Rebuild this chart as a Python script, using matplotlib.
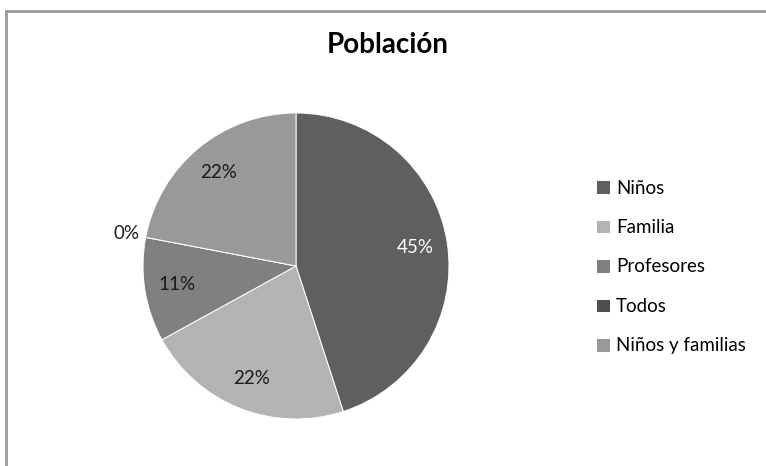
import matplotlib.pyplot as plt
from matplotlib.lines import Line2D

plt.rcParams['font.family'] = ['Lato', 'DejaVu Sans']

# Datos de la gráfica
categorias = ['Niños', 'Familia', 'Profesores', 'Todos', 'Niños y familias']
porcentajes = [45, 22, 11, 0, 22]
colores = ['#5f5f5f', '#b3b3b3', '#808080', '#4f4f4f', '#999999']

fig = plt.figure(figsize=(7.66, 4.66), dpi=100)

# Marco del área del gráfico (solo arriba e izquierda)
W, H = 766, 466
fig.add_artist(Line2D([5.5 / W, 1.0], [1 - 10.5 / H, 1 - 10.5 / H],
                      transform=fig.transFigure, color='#9a9a9a', lw=2))
fig.add_artist(Line2D([5.5 / W, 5.5 / W], [0, 1 - 10.5 / H],
                      transform=fig.transFigure, color='#9a9a9a', lw=2))

# Pastel centrado en (296, 266) px con radio 153 px
r = 153
ax = fig.add_axes([(296 - r) / W, (H - 266 - r) / H, 2 * r / W, 2 * r / H])
wedges, textos, autotextos = ax.pie(
    porcentajes, colors=colores, startangle=90, counterclock=False,
    autopct='%1.0f%%', pctdistance=0.79,
    wedgeprops=dict(edgecolor='white', linewidth=0.7),
    textprops=dict(fontsize=13.5, color='#1a1a1a'))
ax.set_xlim(-1, 1)
ax.set_ylim(-1, 1)
ax.set_aspect('equal')

# 45% en blanco, 0% fuera del círculo
autotextos[0].set_color('white')
x0, y0 = autotextos[3].get_position()
autotextos[3].set_position((x0 * 1.13 / 0.79, y0 * 1.13 / 0.79))

fig.text(388 / W, 1 - 45 / H, 'Población', ha='center', va='center',
         fontsize=20, fontweight='bold', color='black')

fig.legend(wedges, categorias, loc='center left',
           bbox_to_anchor=(588 / W, 1 - 267 / H), frameon=False,
           fontsize=13.5, handlelength=0.75, handleheight=0.75,
           handletextpad=0.35, labelspacing=1.2, borderaxespad=0)

fig.savefig('out.png', dpi=100)
